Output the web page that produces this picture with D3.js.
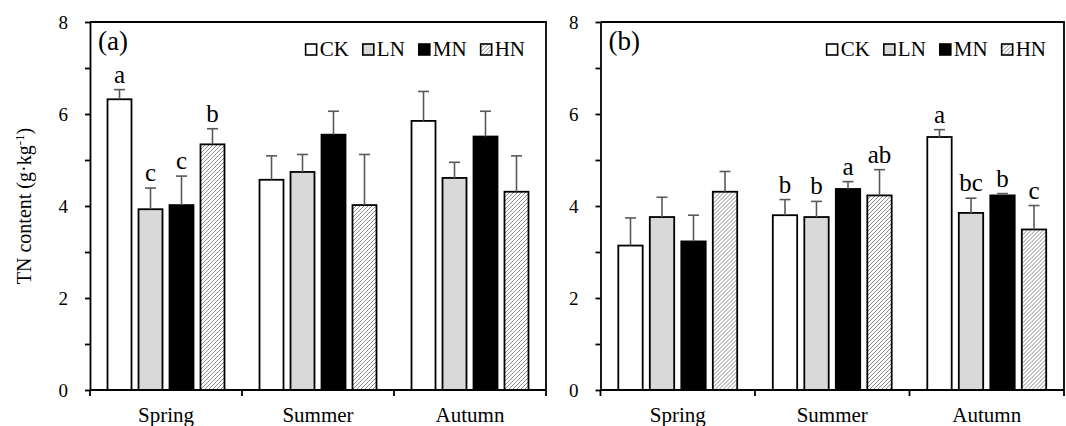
<!DOCTYPE html>
<html>
<head>
<meta charset="utf-8">
<script src="https://cdn.jsdelivr.net/npm/d3@7"></script>
<style>
  body { margin: 0; background: #fff; }
  text { font-family: "Liberation Serif", "Times New Roman", serif; fill: #000; }
</style>
</head>
<body>
<svg id="chart" width="1066" height="426"></svg>
<script>
// Data
const seasons = ["Spring", "Summer", "Autumn"];
const treatments = ["CK", "LN", "MN", "HN"];
const yTicks = [0, 2, 4, 6, 8];

// panel (a)
const meanA = [[6.32, 3.93, 4.02, 5.34], [4.57, 4.74, 5.55, 4.02], [5.85, 4.61, 5.51, 4.31]];
const sdA = [[0.21, 0.46, 0.63, 0.34], [0.52, 0.38, 0.51, 1.10], [0.64, 0.34, 0.55, 0.78]];
const lettersA = [["a", "c", "c", "b"], ["", "", "", ""], ["", "", "", ""]];

// panel (b)
const meanB = [[3.14, 3.76, 3.23, 4.31], [3.80, 3.76, 4.37, 4.23], [5.50, 3.85, 4.23, 3.49]];
const sdB = [[0.60, 0.43, 0.57, 0.44], [0.34, 0.34, 0.16, 0.56], [0.16, 0.32, 0.04, 0.52]];
const lettersB = [["", "", "", ""], ["b", "b", "a", "ab"], ["a", "bc", "b", "c"]];

const svg = d3.select("#chart");

// hatch pattern for HN
svg.append("defs").append("pattern")
    .attr("id", "hatch")
    .attr("patternUnits", "userSpaceOnUse")
    .attr("width", 4).attr("height", 4)
  .append("path")
    .attr("d", "M-1,1 l2,-2 M0,4 l4,-4 M3,5 l2,-2")
    .attr("stroke", "#8a8a8a")
    .attr("stroke-width", 1);

const fills = { CK: "#fff", LN: "#d9d9d9", MN: "#000", HN: "url(#hatch)" };
const SW = 1.8;

function drawPanel(opts) {
    const { left, right, top, bottom, means, sds, letters, tag, legRight } = opts;
    const g = svg.append("g");

    const y = d3.scaleLinear().domain([0, 8]).range([bottom, top]);
    const x0 = d3.scaleBand().domain(seasons).range([left, right]).padding(0);
    const x1 = d3.scaleBand().domain(treatments).range([0, x0.bandwidth()])
        .paddingInner(0.226).paddingOuter(0.565);

    // frame: top and right borders
    g.append("path")
        .attr("d", `M${left},${top}H${right}V${bottom}`)
        .attr("fill", "none").attr("stroke", "#000").attr("stroke-width", SW);

    // bars
    seasons.forEach((s, i) => {
        const grp = g.append("g").attr("transform", `translate(${x0(s)},0)`);
        treatments.forEach((t, j) => {
            const v = means[i][j], e = sds[i][j];
            const bx = x1(t), bw = x1.bandwidth();
            grp.append("rect")
                .attr("x", bx).attr("y", y(v))
                .attr("width", bw).attr("height", y(0) - y(v))
                .attr("fill", fills[t])
                .attr("stroke", "#000").attr("stroke-width", SW);
            const cx = bx + bw / 2;
            grp.append("line")
                .attr("x1", cx).attr("x2", cx)
                .attr("y1", y(v)).attr("y2", y(v + e))
                .attr("stroke", "#595959").attr("stroke-width", 1.6);
            grp.append("line")
                .attr("x1", cx - 5.5).attr("x2", cx + 5.5)
                .attr("y1", y(v + e)).attr("y2", y(v + e))
                .attr("stroke", "#595959").attr("stroke-width", 1.6);
            if (letters[i][j]) {
                grp.append("text")
                    .attr("x", cx).attr("y", y(v + e) - 7)
                    .attr("text-anchor", "middle")
                    .style("font-size", "25px")
                    .text(letters[i][j]);
            }
        });
    });

    // y axis, ticks every 1, labels on even values
    const yAxis = g.append("g")
        .attr("transform", `translate(${left},0)`)
        .call(d3.axisLeft(y).ticks(8).tickSize(5).tickSizeOuter(0)
            .tickFormat(d => yTicks.includes(d) ? d : ""));
    yAxis.select(".domain").attr("stroke-width", SW);
    yAxis.selectAll(".tick line").attr("stroke-width", SW);
    yAxis.selectAll(".tick text")
        .attr("x", -22)
        .style("font-size", "19px")
        .style("font-family", "'Liberation Serif', 'Times New Roman', serif");

    // x axis: ticks at category boundaries
    const xAxis = g.append("g").attr("transform", `translate(0,${bottom})`);
    xAxis.append("line")
        .attr("x1", left).attr("x2", right)
        .attr("stroke", "#000").attr("stroke-width", SW);
    const bounds = seasons.map(s => x0(s)).concat([right]);
    xAxis.selectAll(".bt").data(bounds).enter().append("line")
        .attr("x1", d => d).attr("x2", d => d)
        .attr("y1", 0).attr("y2", 6)
        .attr("stroke", "#000").attr("stroke-width", SW);
    xAxis.selectAll(".cl").data(seasons).enter().append("text")
        .attr("x", d => x0(d) + x0.bandwidth() / 2)
        .attr("y", 32)
        .attr("text-anchor", "middle")
        .style("font-size", "21px")
        .text(d => d);

    // panel tag
    g.append("text")
        .attr("x", left + 8).attr("y", top + 28)
        .style("font-size", "27px")
        .text(tag);

    // legend, laid out from measured text widths, right aligned
    const leg = g.append("g");
    let lx = 0;
    treatments.forEach((t) => {
        const it = leg.append("g").attr("transform", `translate(${lx},0)`);
        it.append("rect")
            .attr("x", 0).attr("y", -12)
            .attr("width", 11).attr("height", 11)
            .attr("fill", fills[t])
            .attr("stroke", "#000").attr("stroke-width", 1.6);
        const tx = it.append("text")
            .attr("x", 14).attr("y", 0)
            .style("font-size", "21px")
            .text(t);
        lx += 14 + tx.node().getComputedTextLength() + 14;
    });
    const total = lx - 14;
    leg.attr("transform", `translate(${right - legRight - total},${top + 34})`);
}

drawPanel({ left: 90, right: 546, top: 22, bottom: 390, means: meanA, sds: sdA, letters: lettersA, tag: "(a)", legRight: 21 });
drawPanel({ left: 600.5, right: 1064, top: 22, bottom: 390, means: meanB, sds: sdB, letters: lettersB, tag: "(b)", legRight: 18 });

// y axis title
const yt = svg.append("text")
    .attr("transform", "translate(31,206) rotate(-90)")
    .attr("text-anchor", "middle")
    .style("font-size", "20px");
yt.append("tspan").text("TN content (g·kg");
yt.append("tspan").attr("dy", -7).style("font-size", "13px").text("-1");
yt.append("tspan").attr("dy", 7).text(")");
</script>
</body>
</html>
